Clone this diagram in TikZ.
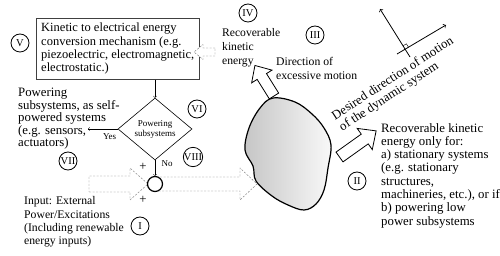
\documentclass[tikz,border=0pt]{standalone}
\usepackage{fontspec}
\setmainfont{Liberation Serif}
\usetikzlibrary{shapes.geometric}

% #1 style, #2 tail, #3 angle, #4 length, #5 half body, #6 half head, #7 head length
\newcommand{\fatarrow}[7]{%
  \draw[#1, shift={#2}, rotate=#3] (0,#5) -- ({#4-#7},#5) -- ({#4-#7},#6) -- (#4,0)
    -- ({#4-#7},-#6) -- ({#4-#7},-#5) -- (0,-#5) -- cycle;}

\begin{document}
\begin{tikzpicture}[x=1pt, y=-1pt, font=\fontsize{12.8}{13.3}\selectfont,
    txt/.style={align=left, anchor=north west, inner sep=0pt},
    smalltxt/.style={txt, font=\fontsize{11.7}{13.3}\selectfont},
    roman/.style={circle, draw, thick, minimum size=18pt, inner sep=0pt, font=\fontsize{10.5}{12}\selectfont},
    small/.style={font=\fontsize{9}{10}\selectfont},
    dotarrow/.style={black!55, dash pattern=on 2pt off 1.5pt, fill=white},
    fatline/.style={thick, fill=white}]
  \useasboundingbox (0,0) rectangle (500,256);

  \node[draw=black!75, anchor=north west, minimum width=160pt, align=left, inner xsep=5pt, inner ysep=5pt,
      font=\fontsize{12.5}{13.3}\selectfont]
    (conv) at (36,18) {Kinetic to electrical energy\\conversion mechanism (e.g.\\piezoelectric, electromagnetic,\\electrostatic.)};
  \node[diamond, draw, semithick, minimum width=74pt, minimum height=62pt, inner sep=0pt, align=center, small]
    (pow) at (155,129) {Powering\\subsystems};
  \draw[->] (conv.south -| pow.north) -- (pow.north);
  \coordinate (yesend) at (88,129);
  \draw[->] (pow.west) -- (yesend) node[pos=0.27, below=1pt, small] {Yes};

  % block arrows
  \fatarrow{dotarrow}{(89,184)}{0}{59}{8}{16}{18}
  \fatarrow{dotarrow}{(155,184)}{0}{102}{7}{16}{17}
  \fatarrow{dotarrow}{(215,52)}{180}{21}{4}{7.5}{9}
  \fatarrow{fatline}{(274,96)}{122}{36}{5.5}{12}{13}
  \fatarrow{fatline}{(339.5,157)}{35.5}{45}{6}{13}{14}

  \node[circle, draw, very thick, fill=white, minimum size=15pt, inner sep=0pt] (sum) at (155,184) {};
  \draw[->] (pow.south) -- (sum.north) node[pos=0.2, right=3pt, small] {No};
  \node (plusa) at (143,167) {+};
  \node (plusb) at (143,200) {+};

  \draw[very thick, left color=gray!45, right color=gray!5] plot[smooth cycle, tension=0.6] coordinates {
    (273,98) (295,102) (312,114) (324,128) (331,145) (328,168) (324,190) (316,204)
    (304,210) (288,205) (272,196) (256,181) (253,166) (245,150) (249,128) (260,108)};

  % axes of the dynamic system
  \coordinate (axa) at (410,57);
  \coordinate (axb) at (380,9);
  \coordinate (axc) at (397,54);
  \coordinate (axd) at (446,25);
  \draw[thick, ->] (axa) -- (axb);
  \draw[thick, ->] (axc) -- (axd);
  \draw[thin] (403,45.8) -- (406.4,43.8) -- (408.5,47.2);

  \node[smalltxt, font=\fontsize{11.6}{14}\selectfont] (recov) at (222,28.5) {Recoverable\\kinetic\\energy};
  \node[smalltxt] (excess) at (276,57.5) {Direction of\\excessive motion};
  \node[txt, font=\fontsize{12.8}{12.5}\selectfont] (selfpow) at (18,88) {Powering\\subsystems, as self-\\powered systems\\(e.g. sensors,\\actuators)};
  \node[smalltxt] (input) at (24,196.5) {Input: External\\Power/Excitations\\(Including renewable\\energy inputs)};
  \node[txt] (only) at (381,123) {Recoverable kinetic\\energy only for:\\a) stationary systems\\(e.g. stationary\\structures,\\machineries, etc.), or if\\b) powering low\\power subsystems};
  \node[txt, rotate=33] (desired) at (330,112.5) {Desired direction of motion\\of the dynamic system};

  \foreach \nm/\pos/\lab in {cI/{(140,226)}/I, cII/{(357,181)}/II, cIII/{(315,35)}/III, cIV/{(248,13)}/IV,
      cV/{(20,43)}/V, cVI/{(197,109)}/VI, cVII/{(68,161)}/VII, cVIII/{(193,157)}/VIII}
    \node[roman] (\nm) at \pos {\lab};
\end{tikzpicture}
\end{document}
